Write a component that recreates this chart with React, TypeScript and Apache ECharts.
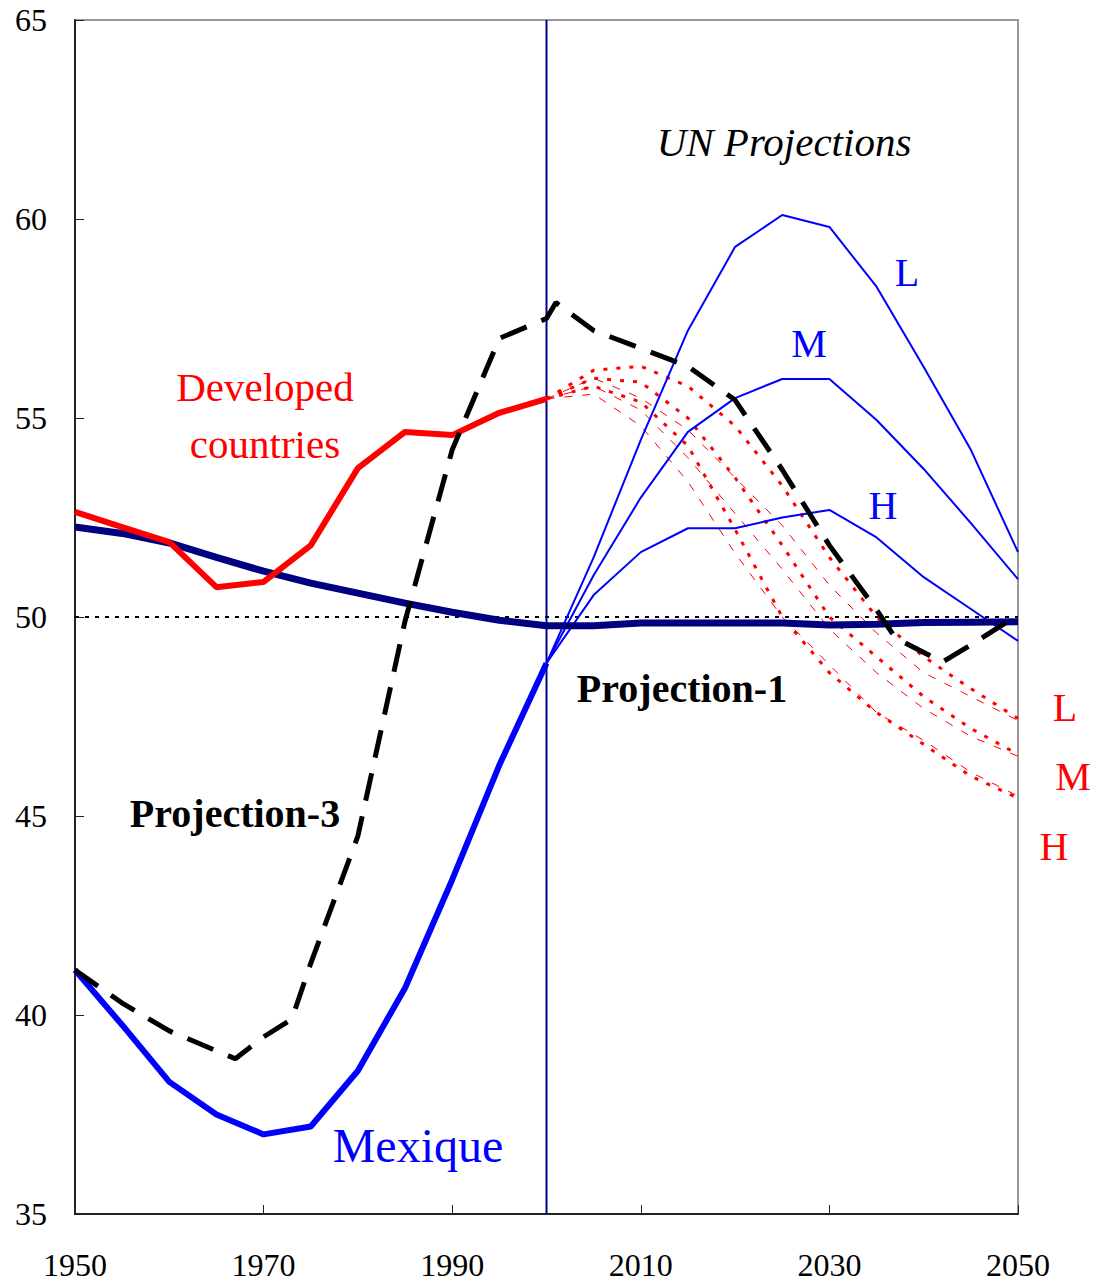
import React, { useEffect, useRef } from "react";
import * as echarts from "echarts";

const years = [1950, 1955, 1960, 1965, 1970, 1975, 1980, 1985, 1990, 1995, 2000];
const projYears = [2000, 2005, 2010, 2015, 2020, 2025, 2030, 2035, 2040, 2045, 2050];

const navyRatio = [52.26, 52.1, 51.86, 51.5, 51.15, 50.85, 50.6, 50.35, 50.12, 49.92, 49.78];
const navyProj = [49.78, 49.78, 49.85, 49.85, 49.85, 49.85, 49.8, 49.82, 49.86, 49.87, 49.88];

const developed = [52.64, 52.26, 51.88, 50.75, 50.88, 51.8, 53.74, 54.65, 54.57, 55.13, 55.48];
const mexique = [41.13, 39.75, 38.32, 37.5, 37.0, 37.2, 38.6, 40.68, 43.4, 46.28, 48.84];

const unL = [48.84, 51.5, 54.45, 57.2, 59.3, 60.1, 59.8, 58.3, 56.28, 54.2, 51.63];
const unM = [48.84, 51.05, 53.0, 54.65, 55.5, 55.98, 55.98, 54.95, 53.72, 52.36, 50.95];
const unH = [48.84, 50.55, 51.63, 52.23, 52.23, 52.5, 52.69, 52.0, 51.0, 50.2, 49.4];

const devL = [55.48, 56.2, 56.3, 55.8, 54.8, 53.3, 51.5, 50.0, 49.0, 48.2, 47.45];
const devM = [55.48, 56.0, 55.9, 55.0, 53.5, 51.8, 50.0, 49.0, 48.0, 47.2, 46.55];
const devH = [55.48, 55.8, 55.4, 54.3, 52.2, 50.0, 48.6, 47.6, 46.8, 46.0, 45.45];

const devL2 = [55.48, 56.0, 55.5, 54.7, 53.5, 52.3, 50.8, 49.6, 48.6, 48.0, 47.4];
const devM2 = [55.48, 55.8, 55.2, 54.0, 52.6, 51.2, 49.7, 48.6, 47.7, 47.0, 46.5];
const devH2 = [55.48, 55.6, 54.8, 53.4, 51.6, 50.0, 48.8, 47.6, 46.9, 46.1, 45.5];

const proj3Years = [1950, 1955, 1960, 1965, 1967, 1970, 1973, 1975, 1980, 1985, 1990, 1995, 2000, 2001, 2005, 2010, 2015, 2020, 2025, 2030, 2035, 2037, 2042, 2045, 2050];
const proj3 = [41.13, 40.3, 39.6, 39.1, 38.9, 39.45, 39.9, 41.3, 44.5, 49.9, 54.2, 57.0, 57.5, 57.9, 57.2, 56.75, 56.3, 55.45, 53.7, 51.8, 50.18, 49.47, 48.87, 49.3, 50.05];

const yTicks = [35, 40, 45, 50, 55, 60, 65];
const xTicks = [1950, 1970, 1990, 2010, 2030, 2050];

const zip = (xs: number[], ys: number[]) => xs.map((x, i) => [x, ys[i]]);

const FONT = "Liberation Serif";

export default function App() {
  const ref = useRef<HTMLDivElement>(null);
  useEffect(() => {
    document.body.style.margin = "0";
    const chart = echarts.init(ref.current!, undefined, { renderer: "svg" });
    const line = (data: number[][], color: string, width: number, type: any = "solid", z = 2) => ({
      type: "line",
      data,
      symbol: "none",
      z,
      lineStyle: { color, width, type },
    });
    const txt = (text: string, x: number, y: number, fill: string, size: number, extra: any = {}) => ({
      type: "text",
      x,
      y,
      z: 100,
      style: {
        text,
        fill,
        font: `${extra.italic ? "italic " : ""}${extra.bold ? "bold " : ""}${size}px "${FONT}"`,
        textAlign: "center",
        textVerticalAlign: "middle",
      },
    });
    chart.setOption({
      animation: false,
      backgroundColor: "#fff",
      grid: { left: 75, top: 20, right: 86, bottom: 69, show: true, borderColor: "#999", borderWidth: 2 },
      xAxis: {
        type: "value",
        min: 1950,
        max: 2050,
        interval: 20,
        axisLine: { lineStyle: { color: "#222", width: 2 } },
        axisTick: { inside: true, length: 9, lineStyle: { color: "#222", width: 1 } },
        splitLine: { show: false },
        axisLabel: { color: "#000", fontFamily: FONT, fontSize: 32, margin: 35, formatter: (v: number) => (xTicks.includes(v) ? String(v) : "") },
      },
      yAxis: {
        type: "value",
        min: 35,
        max: 65,
        interval: 5,
        axisLine: { show: true, lineStyle: { color: "#222", width: 2 } },
        axisTick: { show: true, inside: true, length: 9, lineStyle: { color: "#222", width: 1 } },
        splitLine: { show: false },
        axisLabel: { color: "#000", fontFamily: FONT, fontSize: 32, margin: 28, formatter: (v: number) => (yTicks.includes(v) ? String(v) : "") },
      },
      series: [
        line([[1950, 50], [2050, 50]], "#000", 2, [4, 6], 1),
        line([[2000, 35], [2000, 65]], "#00008b", 2, "solid", 1),
        line(zip(projYears, devL2), "#ff0000", 1, [8, 10]),
        line(zip(projYears, devM2), "#ff0000", 1, [8, 10]),
        line(zip(projYears, devH2), "#ff0000", 1, [8, 10]),
        line(zip(projYears, devL), "#ff0000", 3, [4, 9]),
        line(zip(projYears, devM), "#ff0000", 3, [4, 9]),
        line(zip(projYears, devH), "#ff0000", 3, [4, 9]),
        line(zip(projYears, unL), "#0000ff", 2),
        line(zip(projYears, unM), "#0000ff", 2),
        line(zip(projYears, unH), "#0000ff", 2),
        line(zip(years, navyRatio).concat(zip(projYears, navyProj).slice(1)), "#000080", 7, "solid", 3),
        line(zip(years, developed), "#ff0000", 6, "solid", 3),
        line(zip(years, mexique), "#0000ff", 6, "solid", 3),
        line(zip(proj3Years, proj3), "#000", 5, [28, 16], 4),
      ],
      graphic: [
        txt("UN Projections", 784, 142, "#000", 41, { italic: true }),
        txt("L", 907, 272, "#0000ff", 40),
        txt("M", 809, 343, "#0000ff", 40),
        txt("H", 883, 505, "#0000ff", 40),
        txt("L", 1065, 707, "#ff0000", 40),
        txt("M", 1073, 776, "#ff0000", 40),
        txt("H", 1054, 846, "#ff0000", 40),
        txt("Developed", 265, 387, "#ff0000", 41),
        txt("countries", 265, 444, "#ff0000", 41),
        txt("Projection-3", 235, 813, "#000", 40, { bold: true }),
        txt("Projection-1", 682, 688, "#000", 40, { bold: true }),
        txt("Mexique", 418, 1145, "#0000ff", 48),
      ],
    });
    return () => chart.dispose();
  }, []);
  return <div ref={ref} style={{ width: 1104, height: 1283 }} />;
}
